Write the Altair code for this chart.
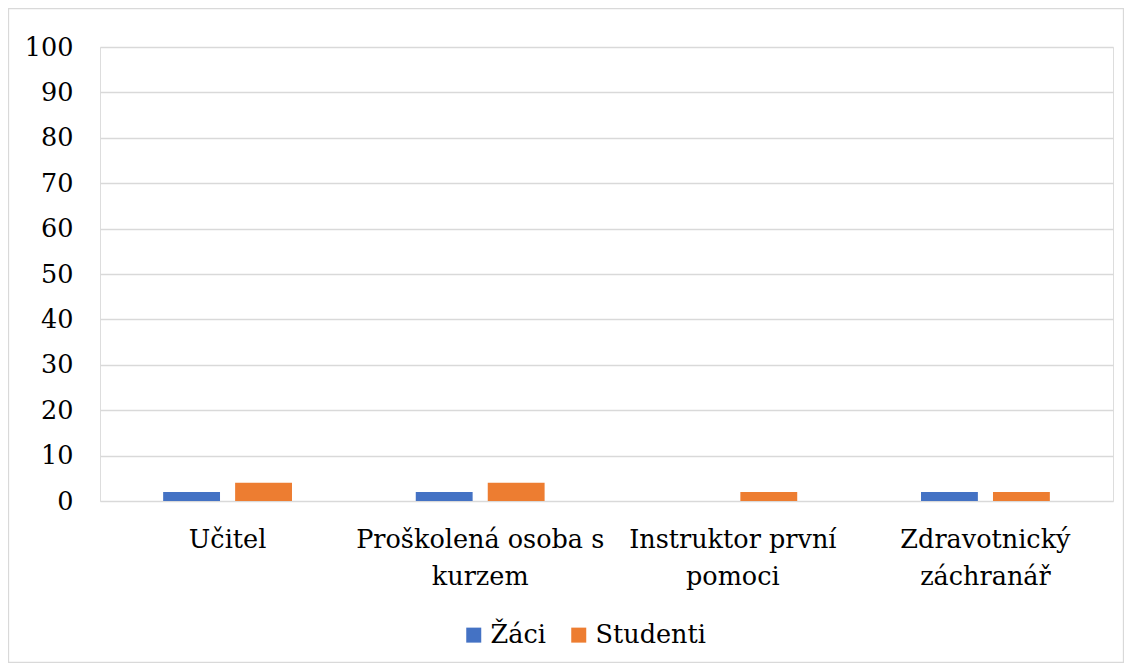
import altair as alt
import pandas as pd

categories = ["Učitel", "Proškolená osoba s\nkurzem", "Instruktor první\npomoci", "Zdravotnický\nzáchranář"]
series = ["Žáci", "Studenti"]
zaci = [2, 2, 0, 2]
studenti = [4, 4, 2, 2]
colors = ["#4472C4", "#ED7D31"]
y_ticks = [0, 10, 20, 30, 40, 50, 60, 70, 80, 90, 100]

rows = []
for c, a, b in zip(categories, zaci, studenti):
    rows.append({"kategorie": c, "skupina": series[0], "hodnota": a})
    rows.append({"kategorie": c, "skupina": series[1], "hodnota": b})
df = pd.DataFrame(rows)

W, H = 1013, 454
FONT = "DejaVu Serif"
FS = 25.5

bars = alt.Chart(df).mark_bar().encode(
    x=alt.X("kategorie:N", sort=categories, title=None,
            scale=alt.Scale(paddingInner=0.49, paddingOuter=0.25),
            axis=alt.Axis(labelAngle=0, labelExpr="split(datum.label, '\\n')",
                          labelFont=FONT, labelFontSize=FS, labelColor="#000000",
                          labelPadding=26, labelLineHeight=37, ticks=False,
                          labelLimit=0, domain=False, grid=False, labelBaseline="top")),
    xOffset=alt.XOffset("skupina:N", sort=series,
                        scale=alt.Scale(paddingInner=0.21, paddingOuter=0)),
    y=alt.Y("hodnota:Q", title=None,
            scale=alt.Scale(domain=[0, 100], nice=False),
            axis=alt.Axis(values=y_ticks, labelFont=FONT, labelFontSize=FS,
                          labelColor="#000000", labelPadding=27, ticks=False,
                          domain=False, gridColor="#D9D9D9", gridWidth=1.3)),
    color=alt.Color("skupina:N", sort=series,
                    scale=alt.Scale(domain=series, range=colors),
                    legend=alt.Legend(title=None, orient="none", direction="horizontal",
                                      legendX=361, legendY=575,
                                      labelFont=FONT, labelFontSize=FS, labelColor="#000000",
                                      symbolType="square", symbolSize=225,
                                      symbolStrokeWidth=0, columnPadding=20,
                                      labelOffset=4)),
)

frame = alt.Chart(pd.DataFrame({"a": [0]})).mark_rect(
    fill=None, stroke="#D9D9D9", strokeWidth=1.3
).encode(
    x=alt.value(-91.5), x2=alt.value(1023.5),
    y=alt.value(-38.5), y2=alt.value(615.5),
)

chart = alt.layer(frame, bars).properties(
    width=W, height=H,
    autosize=alt.AutoSizeParams(type="none"),
    padding={"left": 92, "top": 39, "right": 11, "bottom": 162},
).configure_view(stroke=None).configure(background="white", font=FONT)

chart.save("out.html", embed_options={"renderer": "svg", "actions": False})
